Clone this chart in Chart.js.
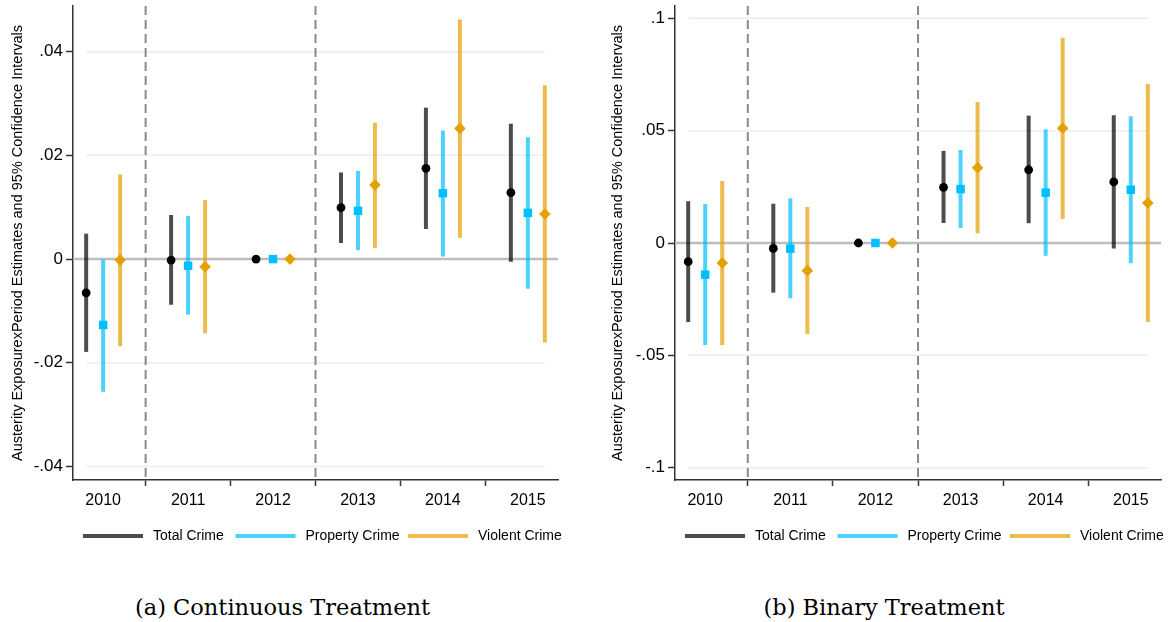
<!DOCTYPE html>
<html>
<head>
<meta charset="utf-8">
<script src="https://cdn.jsdelivr.net/npm/chart.js@4.4.1/dist/chart.umd.min.js"></script>
<style>
  html, body { margin: 0; padding: 0; background: #ffffff; }
  body { width: 1171px; height: 622px; position: relative; overflow: hidden; }
  .panel { position: absolute; top: 0; }
  .caption { position: absolute; font-family: "DejaVu Serif", serif; font-size: 22.5px; color: #000; white-space: nowrap; transform: translate(-50%, -50%); }
</style>
</head>
<body>
<div class="panel" style="left:0px;width:585px;height:560px;"><canvas id="chartA" width="585" height="560"></canvas></div>
<div class="panel" style="left:602px;width:569px;height:560px;"><canvas id="chartB" width="569" height="560"></canvas></div>
<div class="caption" style="left:282.5px;top:607px;">(a) Continuous Treatment</div>
<div class="caption" style="left:884px;top:607px;">(b) Binary Treatment</div>
<script>
// ---- data ----
const years = [2010, 2011, 2012, 2013, 2014, 2015];
const yearLabels = ['2010', '2011', '2012', '2013', '2014', '2015'];
const seriesNames = ['Total Crime', 'Property Crime', 'Violent Crime'];
const yAxisTitle = 'Austerity ExposurexPeriod Estimates and 95% Confidence Intervals';

const contTicks = [-0.04, -0.02, 0, 0.02, 0.04];
const contTickLabels = ['-.04', '-.02', '0', '.02', '.04'];
const binTicks = [-0.1, -0.05, 0, 0.05, 0.1];
const binTickLabels = ['-.1', '-.05', '0', '.05', '.1'];

// (a) Continuous treatment
const contTotalEst = [-0.0065, -0.0002, 0, 0.0099, 0.0175, 0.0128];
const contTotalLo  = [-0.0179, -0.0088, 0, 0.0031, 0.0058, -0.0005];
const contTotalHi  = [0.0049, 0.0085, 0, 0.0167, 0.0292, 0.0261];
const contPropEst  = [-0.0127, -0.0013, 0, 0.0093, 0.0127, 0.0089];
const contPropLo   = [-0.0256, -0.0107, 0, 0.0017, 0.0005, -0.0057];
const contPropHi   = [0.0000, 0.0083, 0, 0.0170, 0.0248, 0.0235];
const contViolEst  = [-0.0002, -0.0015, 0, 0.0143, 0.0252, 0.0087];
const contViolLo   = [-0.0168, -0.0143, 0, 0.0021, 0.0041, -0.0161];
const contViolHi   = [0.0163, 0.0114, 0, 0.0263, 0.0462, 0.0335];

// (b) Binary treatment
const binTotalEst = [-0.0083, -0.0024, 0, 0.0248, 0.0326, 0.0272];
const binTotalLo  = [-0.0352, -0.0221, 0, 0.0089, 0.0088, -0.0025];
const binTotalHi  = [0.0186, 0.0175, 0, 0.0410, 0.0567, 0.0569];
const binPropEst  = [-0.0141, -0.0025, 0, 0.0240, 0.0224, 0.0237];
const binPropLo   = [-0.0454, -0.0246, 0, 0.0067, -0.0057, -0.0090];
const binPropHi   = [0.0174, 0.0199, 0, 0.0414, 0.0506, 0.0564];
const binViolEst  = [-0.0089, -0.0123, 0, 0.0335, 0.0511, 0.0178];
const binViolLo   = [-0.0454, -0.0405, 0, 0.0043, 0.0107, -0.0352];
const binViolHi   = [0.0276, 0.0160, 0, 0.0628, 0.0914, 0.0708];

const treatmentYears = [2010.5, 2012.5];

// ---- styling ----
const FONT = '"Liberation Sans", Arial, Helvetica, sans-serif';
const barColors = ['rgba(0,0,0,0.7)', 'rgba(0,191,255,0.7)', 'rgba(230,159,0,0.7)'];
const markColors = ['#000000', '#00bfff', '#e69f00'];
const markStyles = ['circle', 'rect', 'rectRot'];
const markRadius = [4.4, 6, 5.8];
const xOffsets = [-0.2, 0, 0.2];

function buildDatasets(est, lo, hi) {
  const ds = [];
  for (let s = 0; s < 3; s++) {
    ds.push({
      type: 'bar',
      label: seriesNames[s] + ' CI',
      data: years.map((yr, i) => ({ x: yr + xOffsets[s], y: [lo[s][i], hi[s][i]] })),
      backgroundColor: barColors[s],
      borderWidth: 0,
      grouped: false,
      maxBarThickness: 4,
      order: 2
    });
  }
  for (let s = 0; s < 3; s++) {
    ds.push({
      type: 'line',
      label: seriesNames[s],
      data: years.map((yr, i) => ({ x: yr + xOffsets[s], y: est[s][i] })),
      showLine: false,
      pointStyle: markStyles[s],
      pointRadius: markRadius[s],
      pointHoverRadius: markRadius[s],
      pointBackgroundColor: markColors[s],
      pointBorderWidth: 0,
      borderColor: markColors[s],
      order: 1
    });
  }
  return ds;
}

const refLines = {
  id: 'refLines',
  beforeDatasetsDraw(chart, args, opts) {
    const { ctx, chartArea: ca, scales: { x, y } } = chart;
    ctx.save();
    ctx.strokeStyle = '#e8eef1';
    ctx.lineWidth = 1.5;
    opts.ticks.forEach(v => {
      if (v === 0) return;
      const py = y.getPixelForValue(v);
      ctx.beginPath();
      ctx.moveTo(x.getPixelForValue(2009.8), py);
      ctx.lineTo(x.getPixelForValue(2015.2), py);
      ctx.stroke();
    });
    const pz = y.getPixelForValue(0);
    ctx.strokeStyle = '#bdbdbd';
    ctx.lineWidth = 2.5;
    ctx.beginPath();
    ctx.moveTo(ca.left, pz);
    ctx.lineTo(ca.right, pz);
    ctx.stroke();
    ctx.strokeStyle = '#8a8a8a';
    ctx.lineWidth = 2;
    ctx.setLineDash([9, 5]);
    treatmentYears.forEach(t => {
      const px = x.getPixelForValue(t);
      ctx.beginPath();
      ctx.moveTo(px, ca.top);
      ctx.lineTo(px, ca.bottom);
      ctx.stroke();
    });
    ctx.restore();
  }
};

const keyLegend = {
  id: 'keyLegend',
  afterDraw(chart) {
    const { ctx, chartArea: ca } = chart;
    const starts = [10, 162.5, 335];
    const yy = 536;
    ctx.save();
    ctx.font = '14px ' + FONT;
    ctx.textBaseline = 'middle';
    ctx.textAlign = 'left';
    for (let s = 0; s < 3; s++) {
      const x0 = ca.left + starts[s];
      ctx.fillStyle = barColors[s];
      ctx.fillRect(x0, yy - 2, 60, 4);
      ctx.fillStyle = '#000';
      ctx.fillText(seriesNames[s], x0 + 70, yy + 0.5);
    }
    ctx.restore();
  }
};

function makeChart(id, est, lo, hi, ticks, tickLabels, yMin, yMax, padRight, titlePad) {
  return new Chart(document.getElementById(id), {
    type: 'bar',
    data: { datasets: buildDatasets(est, lo, hi) },
    options: {
      responsive: false,
      animation: false,
      events: [],
      layout: { padding: { left: 0, right: padRight, top: 6, bottom: 0 } },
      plugins: {
        legend: { display: false },
        tooltip: { enabled: false },
        refLines: { ticks: ticks }
      },
      scales: {
        x: {
          type: 'linear',
          min: 2009.645,
          max: 2015.355,
          offset: false,
          afterFit: s => { s.height = 80; s.paddingLeft = 0; s.paddingRight = 0; },
          afterBuildTicks: s => { s.ticks = years.map(v => ({ value: v })); },
          ticks: {
            autoSkip: false,
            maxRotation: 0,
            padding: 5,
            color: '#000',
            font: { family: FONT, size: 16 },
            callback: (v, i) => yearLabels[i]
          },
          grid: { drawOnChartArea: false, drawTicks: true, tickLength: 6, tickColor: '#333', tickWidth: 1.5 },
          border: { display: true, color: '#333', width: 1.5 }
        },
        y: {
          type: 'linear',
          min: yMin,
          max: yMax,
          afterFit: s => { s.width = 73; s.paddingTop = 0; s.paddingBottom = 0; },
          afterBuildTicks: s => { s.ticks = ticks.map(v => ({ value: v })); },
          ticks: {
            autoSkip: false,
            padding: 3,
            color: '#000',
            font: { family: FONT, size: 17 },
            callback: (v, i) => tickLabels[i]
          },
          grid: { drawOnChartArea: false, drawTicks: true, tickLength: 7, tickColor: '#333', tickWidth: 1.5 },
          border: { display: true, color: '#333', width: 1.5 },
          title: {
            display: true,
            text: yAxisTitle,
            color: '#000',
            font: { family: FONT, size: 14.5 },
            padding: { top: titlePad, bottom: 0 }
          }
        }
      }
    },
    plugins: [refLines, keyLegend]
  });
}

makeChart('chartA',
  [contTotalEst, contPropEst, contViolEst],
  [contTotalLo, contPropLo, contViolLo],
  [contTotalHi, contPropHi, contViolHi],
  contTicks, contTickLabels, -0.0426, 0.0488, 27, 9.3);

makeChart('chartB',
  [binTotalEst, binPropEst, binViolEst],
  [binTotalLo, binPropLo, binViolLo],
  [binTotalHi, binPropHi, binViolHi],
  binTicks, binTickLabels, -0.1055, 0.1055, 10, 7.3);
</script>
</body>
</html>
